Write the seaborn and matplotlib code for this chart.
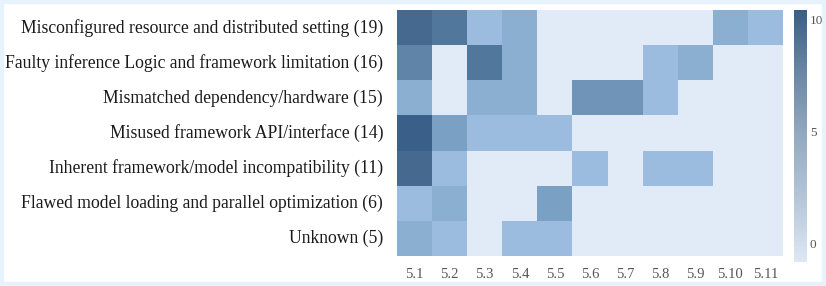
import numpy as np
import pandas as pd
import matplotlib
matplotlib.use("Agg")
import matplotlib.pyplot as plt
import seaborn as sns
from matplotlib.colors import ListedColormap, LinearSegmentedColormap, Normalize, BoundaryNorm
from matplotlib.patches import Rectangle

categories = [
    "Misconfigured resource and distributed setting (19)",
    "Faulty inference Logic and framework limitation (16)",
    "Mismatched dependency/hardware (15)",
    "Misused framework API/interface (14)",
    "Inherent framework/model incompatibility (11)",
    "Flawed model loading and parallel optimization (6)",
    "Unknown (5)",
]
sections = ["5.1", "5.2", "5.3", "5.4", "5.5", "5.6", "5.7", "5.8", "5.9", "5.10", "5.11"]

row_misconfigured = [7, 6, 1, 2, 0, 0, 0, 0, 0, 2, 1]
row_faulty        = [5, 0, 6, 2, 0, 0, 0, 1, 2, 0, 0]
row_mismatched    = [2, 0, 2, 2, 0, 4, 4, 1, 0, 0, 0]
row_misused       = [8, 3, 1, 1, 1, 0, 0, 0, 0, 0, 0]
row_inherent      = [7, 1, 0, 0, 0, 1, 0, 1, 1, 0, 0]
row_flawed        = [1, 2, 0, 0, 3, 0, 0, 0, 0, 0, 0]
row_unknown       = [2, 1, 0, 1, 1, 0, 0, 0, 0, 0, 0]

df = pd.DataFrame(
    [row_misconfigured, row_faulty, row_mismatched, row_misused,
     row_inherent, row_flawed, row_unknown],
    index=categories, columns=sections,
)

cell_colors = ["#e0ebf7", "#9bbcdf", "#8aafd0", "#7aa1c4", "#6f94b8",
               "#5f84a8", "#52779c", "#46698f", "#3a5f88", "#345983", "#2f547e"]
cell_cmap = ListedColormap(cell_colors)
cell_norm = BoundaryNorm(np.arange(-0.5, 11.5, 1), cell_cmap.N)

plt.rcParams["font.family"] = "serif"
plt.rcParams["font.serif"] = ["Liberation Serif", "DejaVu Serif"]

W, H = 826, 286
fig = plt.figure(figsize=(W / 100, H / 100), dpi=100)
fig.patch.set_facecolor("white")
fig.patches.append(Rectangle((0, 0), 1, 1, transform=fig.transFigure,
                             fill=False, edgecolor="#e6f3fc", linewidth=6, zorder=0))

ax = fig.add_axes([397 / W, 1 - 256 / H, (783 - 397) / W, (256 - 10) / H])
sns.heatmap(df, ax=ax, cmap=cell_cmap, norm=cell_norm, cbar=False,
            linewidths=0, square=False)

ax.tick_params(axis="both", length=0)
ax.set_xticklabels(sections, fontsize=10.5, color="#555555", rotation=0)
ax.set_yticklabels(categories, fontsize=12.7, color="#1a1a1a", rotation=0)
ax.tick_params(axis="x", pad=9)
ax.tick_params(axis="y", pad=10)
ax.set_xlabel("")
ax.set_ylabel("")

cax = fig.add_axes([794 / W, 1 - 262 / H, 13 / W, (262 - 10) / H])
cb_cmap = LinearSegmentedColormap.from_list(
    "cb", ["#dde8f4", "#b4c6d8", "#94aac0", "#6a87a6", "#3a5f85"])
cb = matplotlib.colorbar.ColorbarBase(cax, cmap=cb_cmap,
                                      norm=Normalize(vmin=-0.8, vmax=10.4),
                                      orientation="vertical")
cb.outline.set_visible(False)
cb.set_ticks([0, 5, 10])
cb.ax.tick_params(length=0, labelsize=9.5, labelcolor="#555555", pad=2)

fig.savefig("out.png", dpi=100, facecolor=fig.get_facecolor())
